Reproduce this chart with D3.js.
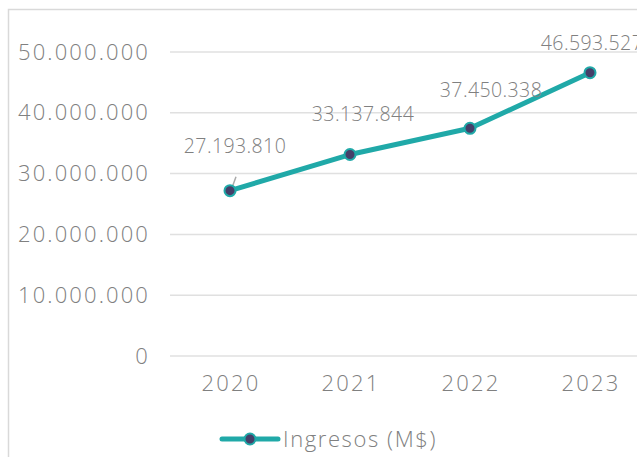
<!DOCTYPE html>
<html>
<head>
<meta charset="utf-8">
<script src="https://cdn.jsdelivr.net/npm/d3@7"></script>
<style>
	body { margin: 0; background: #fff; }
	svg { display: block; font-family: "Open Sans", sans-serif; }
</style>
</head>
<body>
<div id="chart"></div>
<script>
const years = ['2020', '2021', '2022', '2023'];
const ingresos = [27193810, 33137844, 37450338, 46593527];
const yTicks = [0, 10000000, 20000000, 30000000, 40000000, 50000000];
const seriesName = 'Ingresos (M$)';

// label nudges (layout only)
const labelDx = [5, 13, 21, 2];
const labelDy = [-38, -34, -31, -23];

const w = 637, h = 457;
const teal = '#20a9a8', dot = '#453f69', grey = '#808080';

const fmt = (v) => d3.format(',')(v).replace(/,/g, '.');

const svg = d3.select('#chart')
	.append('svg')
	.attr('width', w)
	.attr('height', h);

// chart frame (cropped on the right)
svg.append('rect')
	.attr('x', 8.5).attr('y', 9.5)
	.attr('width', 700).attr('height', 500)
	.attr('fill', 'none')
	.attr('stroke', '#d9d9d9')
	.attr('stroke-width', 1.5);

const x = d3.scaleBand().domain(years).range([170, 650]);
const y = d3.scaleLinear().domain([0, 50000000]).range([356, 52]);

// grid
svg.append('g')
	.selectAll('line')
	.data(yTicks)
	.enter()
	.append('line')
	.attr('x1', 170).attr('x2', 650)
	.attr('y1', d => y(d)).attr('y2', d => y(d))
	.attr('stroke', '#e0e0e0')
	.attr('stroke-width', 1.5);

// y axis
const yAxis = svg.append('g')
	.attr('transform', 'translate(150,0)')
	.call(d3.axisLeft(y).tickValues(yTicks).tickFormat(fmt).tickSize(0).tickPadding(0));
yAxis.select('.domain').remove();
yAxis.selectAll('text')
	.attr('fill', grey)
	.attr('font-size', '22px')
	.attr('font-weight', 300)
	.attr('letter-spacing', '2.1px')
	.attr('font-family', '"Open Sans", sans-serif');

// x axis
const xAxis = svg.append('g')
	.attr('transform', 'translate(1,373)')
	.call(d3.axisBottom(x).tickSize(0).tickPadding(2));
xAxis.select('.domain').remove();
xAxis.selectAll('text')
	.attr('fill', grey)
	.attr('font-size', '22px')
	.attr('font-weight', 300)
	.attr('letter-spacing', '2.2px')
	.attr('font-family', '"Open Sans", sans-serif');

const cx = (d, i) => x(years[i]) + x.bandwidth() / 2;

// leader line for first label
svg.append('line')
	.attr('x1', cx(null, 0) + 2).attr('y1', y(ingresos[0]) - 3)
	.attr('x2', cx(null, 0) + 6).attr('y2', y(ingresos[0]) - 14)
	.attr('stroke', '#aaa')
	.attr('stroke-width', 1.5);

// line
const line = d3.line().x(cx).y(d => y(d));
svg.append('path')
	.datum(ingresos)
	.attr('d', line)
	.attr('fill', 'none')
	.attr('stroke', teal)
	.attr('stroke-width', 5)
	.attr('stroke-linejoin', 'round');

// markers
svg.selectAll('circle.pt')
	.data(ingresos)
	.enter()
	.append('circle')
	.attr('class', 'pt')
	.attr('cx', cx)
	.attr('cy', d => y(d))
	.attr('r', 5.5)
	.attr('fill', dot)
	.attr('stroke', teal)
	.attr('stroke-width', 2);

// data labels
svg.selectAll('text.lbl')
	.data(ingresos)
	.enter()
	.append('text')
	.attr('class', 'lbl')
	.attr('x', (d, i) => cx(d, i) + labelDx[i])
	.attr('y', (d, i) => y(d) + labelDy[i])
	.attr('text-anchor', 'middle')
	.attr('fill', grey)
	.attr('font-size', '19.5px')
	.attr('font-weight', 300)
	.attr('letter-spacing', '0.4px')
	.text(fmt);

// legend
const lg = svg.append('g').attr('transform', 'translate(222,439)');
lg.append('line')
	.attr('x1', 0).attr('x2', 56)
	.attr('y1', 0).attr('y2', 0)
	.attr('stroke', teal)
	.attr('stroke-width', 5)
	.attr('stroke-linecap', 'round');
lg.append('circle')
	.attr('cx', 28).attr('cy', 0)
	.attr('r', 5.5)
	.attr('fill', dot)
	.attr('stroke', teal)
	.attr('stroke-width', 2);
lg.append('text')
	.attr('x', 61).attr('y', 8)
	.attr('fill', grey)
	.attr('font-size', '22px')
	.attr('font-weight', 300)
	.attr('letter-spacing', '1.6px')
	.text(seriesName);
</script>
</body>
</html>
